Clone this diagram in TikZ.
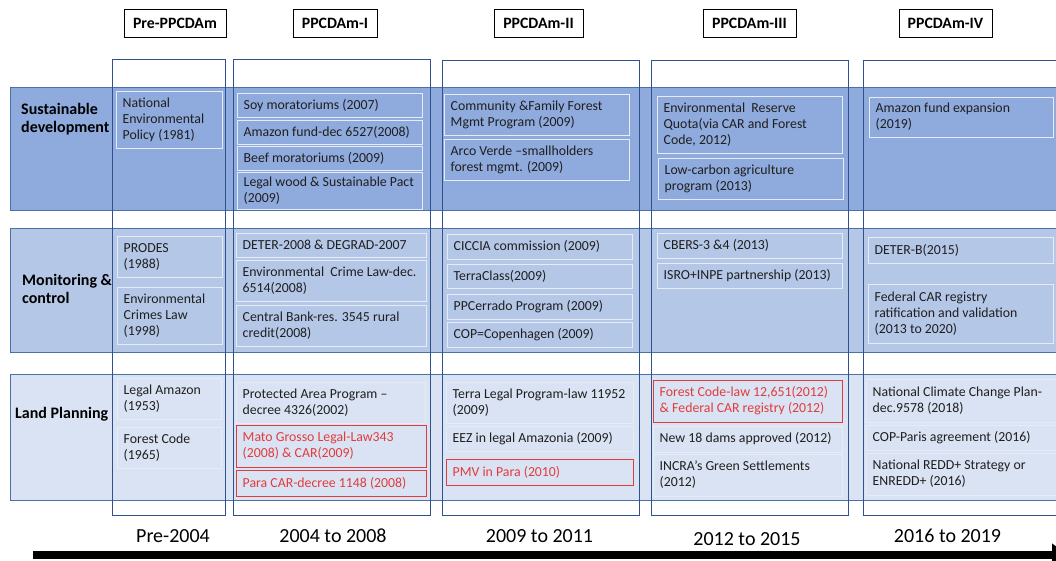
\documentclass[tikz,border=0pt]{standalone}
\usepackage{fontspec}
\setmainfont{Carlito}
\usetikzlibrary{arrows.meta}

\definecolor{bandA}{HTML}{8FAADC}
\definecolor{bandB}{HTML}{B4C7E7}
\definecolor{bandC}{HTML}{DAE3F3}
\definecolor{bandline}{HTML}{4A70A8}
\definecolor{colline}{HTML}{2F528F}
\definecolor{itemline}{HTML}{E6ECF7}
\definecolor{alertred}{HTML}{E23B3B}
\definecolor{ink}{HTML}{1F1F1F}

\tikzset{
  band/.style={draw=bandline, line width=0.9pt},
  period/.style={draw=colline, line width=0.9pt},
  itembox/.style={draw=itemline, line width=1pt, inner sep=0pt},
  itemtext/.style={inner xsep=7pt, inner ysep=0pt, align=left, text=ink,
    font=\fontsize{13.8}{16}\selectfont},
  alert/.style={draw=alertred, text=alertred},
  phase/.style={draw=black, line width=0.7pt, fill=white, text=black,
    font=\bfseries\fontsize{15.8}{18}\selectfont, minimum height=28pt, inner sep=0pt},
  theme/.style={anchor=west, align=left, text=black, inner sep=0pt,
    font=\bfseries\fontsize{16}{17.5}\selectfont},
  span/.style={anchor=base, text=black, inner sep=0pt, font=\fontsize{20}{24}\selectfont},
}

% phase header: name, left x, right x, label
\newcommand\phasebox[4]{%
  \pgfmathsetmacro\pw{#3-#2}%
  \node[phase, minimum width=\pw pt] (#1) at ({(#2+#3)/2},23) {#4};}

% measure box: [style] name, x1, y1, x2, y2, text
\newcommand\itm[7][]{%
  \pgfmathsetmacro\iw{#5-#3}%
  \pgfmathsetmacro\ih{#6-#4}%
  \node[itembox,#1,minimum width=\iw pt,minimum height=\ih pt] (#2) at ({(#3+#5)/2},{(#4+#6)/2}) {};
  \node[itemtext,#1,draw=none,anchor=west] (#2-t) at (#2.west) {#7};}

\begin{document}
\begin{tikzpicture}[x=1pt,y=-1pt]
\useasboundingbox (0,0) rectangle (1056,560);

% thematic bands
\path[band, fill=bandA] (10,87) rectangle (1060,210);
\path[band, fill=bandB] (10,228) rectangle (1060,352);
\path[band, fill=bandC] (10,374) rectangle (1060,500);

% period columns
\draw[period] (112,59) rectangle (225,515);
\draw[period] (233,59) rectangle (430,515);
\draw[period] (442,60) rectangle (639,515);
\draw[period] (651,60) rectangle (848,515);
\draw[period] (863,60) rectangle (1060,515);

% phase headers
\phasebox{h0}{124}{226}{Pre-PPCDAm}
\phasebox{h1}{293}{377}{PPCDAm-I}
\phasebox{h2}{494}{583}{PPCDAm-II}
\phasebox{h3}{703}{796}{PPCDAm-III}
\phasebox{h4}{899}{992}{PPCDAm-IV}

% theme labels
\node[theme] (tsd) at (21,119) {Sustainable\\development};
\node[theme] (tmc) at (22,289) {Monitoring \&\\control};
\node[theme] (tlp) at (15,414) {Land Planning};

% Sustainable development
\itm{sd0a}{116}{91}{222}{148}{National\\Environmental\\Policy (1981)}
\itm{sd1a}{237}{93}{422}{117.5}{Soy moratoriums (2007)}
\itm{sd1b}{237}{120.5}{422}{144.5}{Amazon fund-dec 6527(2008)}
\itm{sd1c}{237}{146}{422}{170}{Beef moratoriums (2009)}
\itm{sd1d}{237}{172}{422}{209}{Legal wood \& Sustainable Pact\\(2009)}
\itm{sd2a}{444}{94}{629}{135}{Community \&Family Forest\\Mgmt Program (2009)}
\itm{sd2b}{444}{139}{629}{180}{Arco Verde –smallholders\\forest mgmt. (2009)}
\itm{sd3a}{657}{96}{842}{153}{Environmental~ Reserve\\Quota(via CAR and Forest\\Code, 2012)}
\itm{sd3b}{658}{158}{843}{199}{Low-carbon agriculture\\program (2013)}
\itm{sd4a}{869}{97}{1053}{137}{Amazon fund expansion\\(2019)}

% Monitoring & control
\itm{mc0a}{117}{236}{222}{277}{PRODES\\(1988)}
\itm{mc0b}{117}{287}{222}{344}{Environmental\\Crimes Law\\(1998)}
\itm{mc1a}{236}{233}{426}{257.5}{DETER-2008 \& DEGRAD-2007}
\itm{mc1b}{236}{260.5}{426}{301}{Environmental~ Crime Law-dec.\\6514(2008)}
\itm{mc1c}{236}{305}{426}{346}{Central Bank-res. 3545 rural\\credit(2008)}
\itm{mc2a}{447}{234}{632}{259}{CICCIA commission (2009)}
\itm{mc2b}{447}{264}{632}{288}{TerraClass(2009)}
\itm{mc2c}{447}{294}{632}{319}{PPCerrado Program (2009)}
\itm{mc2d}{447}{322}{632}{347}{COP=Copenhagen (2009)}
\itm{mc3a}{657}{233}{842}{258}{CBERS-3 \&4 (2013)}
\itm{mc3b}{657}{263}{842}{288}{ISRO+INPE partnership (2013)}
\itm{mc4a}{868}{237}{1053}{263}{DETER-B(2015)}
\itm{mc4b}{868}{284}{1053}{343}{Federal CAR registry\\ratification and validation\\(2013 to 2020)}

% Land planning
\itm{lp0a}{117}{378}{221}{419}{Legal Amazon\\(1953)}
\itm{lp0b}{117}{427}{221}{468}{Forest Code\\(1965)}
\itm{lp1a}{236}{382}{425}{423}{Protected Area Program –\\decree 4326(2002)}
\itm[alert]{lp1b}{236}{425}{426}{467}{Mato Grosso Legal-Law343\\(2008) \& CAR(2009)}
\itm[alert]{lp1c}{236}{470}{426}{496}{Para CAR-decree 1148 (2008)}
\itm{lp2a}{446}{382}{633}{423}{Terra Legal Program-law 11952\\(2009)}
\itm{lp2b}{446}{426}{633}{451}{EEZ in legal Amazonia (2009)}
\itm[alert]{lp2c}{446}{459}{633}{485}{PMV in Para (2010)}
\itm[alert]{lp3a}{653}{380}{842}{422}{Forest Code-law 12,651(2012)\\\& Federal CAR registry (2012)}
\itm{lp3b}{653}{426}{842}{452}{New 18 dams approved (2012)}
\itm{lp3c}{653}{454}{842}{496}{INCRA’s Green Settlements\\(2012)}
\itm{lp4a}{866}{379}{1060}{422}{National Climate Change Plan-\\dec.9578 (2018)}
\itm{lp4b}{866}{425}{1060}{450}{COP-Paris agreement (2016)}
\itm{lp4c}{866}{453}{1060}{495}{National REDD+ Strategy or\\ENREDD+ (2016)}

% period spans
\node[span] (y0) at (173,542) {Pre-2004};
\node[span] (y1) at (333,542) {2004 to 2008};
\node[span] (y2) at (539.5,542) {2009 to 2011};
\node[span] (y3) at (747,545) {2012 to 2015};
\node[span] (y4) at (947.5,542) {2016 to 2019};

% time axis
\coordinate (axS) at (33,555);
\coordinate (axE) at (1068,555);
\draw[line width=8pt, -{Triangle[length=16pt,width=22pt]}] (axS) -- (axE);
\end{tikzpicture}
\end{document}
